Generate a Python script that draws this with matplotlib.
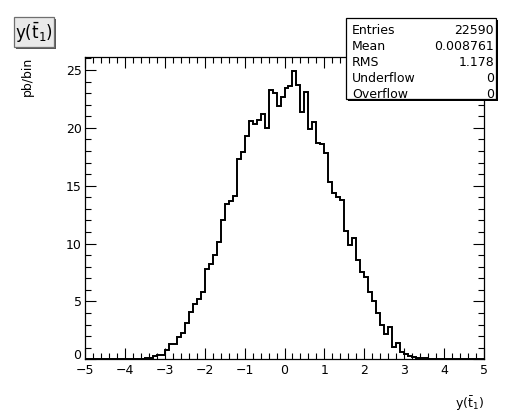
import matplotlib.pyplot as plt
import numpy as np
from matplotlib.patches import Rectangle
from matplotlib.ticker import FuncFormatter, MultipleLocator

# histogram contents in pb per bin, 100 bins of width 0.1 between -5 and 5
bin_low = -5.0
bin_high = 5.0
n_bins = 100
pb_per_bin = [
    # -5.0 .. -3.7
    0, 0, 0, 0, 0, 0, 0, 0, 0, 0, 0, 0, 0, 0,
    # -3.6 .. -2.7
    0.04, 0.08, 0.12, 0.25, 0.35, 0.4, 0.8, 1.3, 1.3, 1.9,
    # -2.6 .. -1.7
    2.3, 3.1, 4.1, 4.8, 5.2, 5.8, 7.8, 8.2, 9.0, 10.1,
    # -1.6 .. -0.7
    12.0, 13.4, 13.7, 14.1, 17.3, 17.9, 19.3, 20.6, 20.3, 20.7,
    # -0.6 .. 0.3
    21.2, 20.0, 23.3, 23.0, 21.9, 22.7, 23.4, 23.6, 24.9, 23.7,
    # 0.4 .. 1.3
    21.4, 23.1, 19.9, 20.5, 18.7, 18.6, 17.8, 15.3, 14.4, 14.0,
    # 1.4 .. 2.3
    13.8, 11.1, 9.9, 10.5, 8.6, 7.5, 7.1, 5.8, 5.0, 4.0,
    # 2.4 .. 3.3
    3.0, 2.2, 2.8, 1.1, 1.4, 0.65, 0.45, 0.3, 0.22, 0.15,
    # 3.4 .. 4.3
    0.1, 0.07, 0.05, 0.04, 0.02, 0.01, 0, 0, 0, 0,
    # 4.4 .. 4.9
    0, 0, 0, 0, 0, 0,
]

hist_title = r"y($\mathregular{\bar{t}_{1}}$)"
x_title = r"y($\mathregular{\bar{t}_{1}}$)"
y_title = "pb/bin"
stats_labels = ["Entries", "Mean", "RMS", "Underflow", "Overflow"]
stats_values = ["22590", "0.008761", "1.178", "0", "0"]

# canvas size in pixels, the layout below is given in pixels from top left
W, H = 516, 412


def fig_xy(x, y):
    return x / W, 1 - y / H


def add_box(fig, x0, y0, x1, y1, face, edge, shadow, off=2):
    # ROOT style pave with a drop shadow to the lower right
    sx, sy = fig_xy(x0 + off, y1 + off)
    fig.patches.append(Rectangle((sx, sy), (x1 - x0) / W, (y1 - y0) / H,
                                 transform=fig.transFigure, facecolor=shadow,
                                 edgecolor="none", zorder=1))
    bx, by = fig_xy(x0, y1)
    fig.patches.append(Rectangle((bx, by), (x1 - x0) / W, (y1 - y0) / H,
                                 transform=fig.transFigure, facecolor=face,
                                 edgecolor=edge, linewidth=0.9, zorder=2))


plt.rcParams["font.family"] = ["DejaVu Sans"]
plt.rcParams["mathtext.fontset"] = "dejavusans"

fig = plt.figure(figsize=(W / 100, H / 100), dpi=100)
fig.patch.set_facecolor("white")

ax_left, ax_right, ax_top, ax_bottom = 85, 484, 56.7, 359.3
ax = fig.add_axes([ax_left / W, 1 - ax_bottom / H,
                   (ax_right - ax_left) / W, (ax_bottom - ax_top) / H])

edges = np.linspace(bin_low, bin_high, n_bins + 1)
ax.stairs(pb_per_bin, edges, color="black", linewidth=1.4)

ax.xaxis.set_major_locator(MultipleLocator(1))
ax.xaxis.set_minor_locator(MultipleLocator(0.2))
ax.yaxis.set_major_locator(MultipleLocator(5))
ax.yaxis.set_minor_locator(MultipleLocator(1))
# the zero of the y axis is written by hand a bit higher, as ROOT does,
# so it does not run into the -5 of the x axis
ax.yaxis.set_major_formatter(FuncFormatter(lambda v, pos: "" if v == 0 else f"{v:g}"))
ax.tick_params(which="both", direction="in", top=True, right=True,
               width=0.8, color="black", labelsize=9)
ax.tick_params(which="major", length=8)
ax.tick_params(which="minor", length=4)
ax.tick_params(axis="x", pad=3.5)
ax.tick_params(axis="y", pad=2.5)
for spine in ax.spines.values():
    spine.set_linewidth(0.9)

ax.set_xlim(bin_low, bin_high)
ax.set_ylim(0, 1.05 * max(pb_per_bin))

fig.text(*fig_xy(ax_left - 3.5, ax_bottom - 3.5), "0", ha="right",
         va="center", fontsize=9)

# axis titles sit at the far ends of the axes
fig.text(*fig_xy(27, ax_top), y_title, rotation=90, ha="center", va="top",
         fontsize=9)
fig.text(*fig_xy(ax_right, 404), x_title, ha="right", va="center", fontsize=9)

# title pave
add_box(fig, 14, 17, 54, 47, face="#e9e9e9", edge="#6f6f6f", shadow="#555555")
fig.text(*fig_xy(34, 33), hist_title, ha="center", va="center", fontsize=12,
         zorder=3)

# statistics pave
add_box(fig, 346, 18, 496, 99, face="white", edge="black", shadow="black")
for k, (lab, val) in enumerate(zip(stats_labels, stats_values)):
    y = 30 + 16.2 * k
    fig.text(*fig_xy(352, y), lab, ha="left", va="center", fontsize=9, zorder=3)
    fig.text(*fig_xy(494, y), val, ha="right", va="center", fontsize=9,
             zorder=3)

plt.savefig("out.png", dpi=100)
